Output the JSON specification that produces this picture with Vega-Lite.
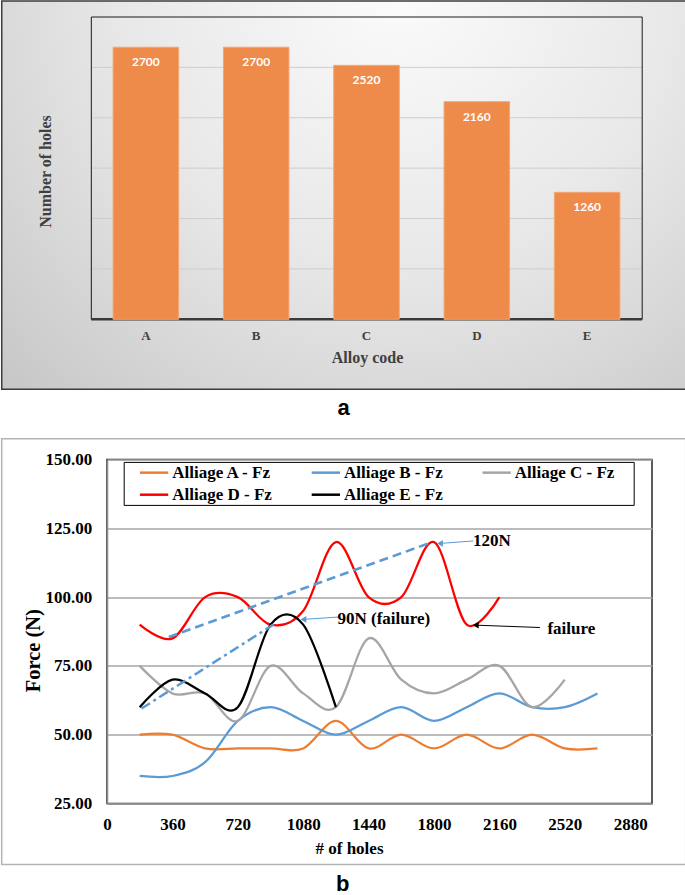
{
  "$schema": "https://vega.github.io/schema/vega-lite/v6.json",
  "padding": 0,
  "background": "white",
  "spacing": 17.5,
  "resolve": {"legend": {"color": "independent"}},
  "datasets": {
    "bars": [
      {"alloy": "A", "holes": 2700},
      {"alloy": "B", "holes": 2700},
      {"alloy": "C", "holes": 2520},
      {"alloy": "D", "holes": 2160},
      {"alloy": "E", "holes": 1260}
    ],
    "gridTop": [{"g": 500}, {"g": 1000}, {"g": 1500}, {"g": 2000}, {"g": 2500}],
    "one": [{}],
    "series": [
      {"alloy": "Alliage A - Fz", "holes": 180, "force": 50},
      {"alloy": "Alliage A - Fz", "holes": 360, "force": 50},
      {"alloy": "Alliage A - Fz", "holes": 540, "force": 45},
      {"alloy": "Alliage A - Fz", "holes": 720, "force": 45},
      {"alloy": "Alliage A - Fz", "holes": 900, "force": 45},
      {"alloy": "Alliage A - Fz", "holes": 1080, "force": 45},
      {"alloy": "Alliage A - Fz", "holes": 1260, "force": 55},
      {"alloy": "Alliage A - Fz", "holes": 1440, "force": 45},
      {"alloy": "Alliage A - Fz", "holes": 1620, "force": 50},
      {"alloy": "Alliage A - Fz", "holes": 1800, "force": 45},
      {"alloy": "Alliage A - Fz", "holes": 1980, "force": 50},
      {"alloy": "Alliage A - Fz", "holes": 2160, "force": 45},
      {"alloy": "Alliage A - Fz", "holes": 2340, "force": 50},
      {"alloy": "Alliage A - Fz", "holes": 2520, "force": 45},
      {"alloy": "Alliage A - Fz", "holes": 2700, "force": 45},
      {"alloy": "Alliage B - Fz", "holes": 180, "force": 35},
      {"alloy": "Alliage B - Fz", "holes": 360, "force": 35},
      {"alloy": "Alliage B - Fz", "holes": 540, "force": 40},
      {"alloy": "Alliage B - Fz", "holes": 720, "force": 55},
      {"alloy": "Alliage B - Fz", "holes": 900, "force": 60},
      {"alloy": "Alliage B - Fz", "holes": 1080, "force": 55},
      {"alloy": "Alliage B - Fz", "holes": 1260, "force": 50},
      {"alloy": "Alliage B - Fz", "holes": 1440, "force": 55},
      {"alloy": "Alliage B - Fz", "holes": 1620, "force": 60},
      {"alloy": "Alliage B - Fz", "holes": 1800, "force": 55},
      {"alloy": "Alliage B - Fz", "holes": 1980, "force": 60},
      {"alloy": "Alliage B - Fz", "holes": 2160, "force": 65},
      {"alloy": "Alliage B - Fz", "holes": 2340, "force": 60},
      {"alloy": "Alliage B - Fz", "holes": 2520, "force": 60},
      {"alloy": "Alliage B - Fz", "holes": 2700, "force": 65},
      {"alloy": "Alliage C - Fz", "holes": 180, "force": 75},
      {"alloy": "Alliage C - Fz", "holes": 360, "force": 65},
      {"alloy": "Alliage C - Fz", "holes": 540, "force": 65},
      {"alloy": "Alliage C - Fz", "holes": 720, "force": 55},
      {"alloy": "Alliage C - Fz", "holes": 900, "force": 75},
      {"alloy": "Alliage C - Fz", "holes": 1080, "force": 65},
      {"alloy": "Alliage C - Fz", "holes": 1260, "force": 60},
      {"alloy": "Alliage C - Fz", "holes": 1440, "force": 85},
      {"alloy": "Alliage C - Fz", "holes": 1620, "force": 70},
      {"alloy": "Alliage C - Fz", "holes": 1800, "force": 65},
      {"alloy": "Alliage C - Fz", "holes": 1980, "force": 70},
      {"alloy": "Alliage C - Fz", "holes": 2160, "force": 75},
      {"alloy": "Alliage C - Fz", "holes": 2340, "force": 60},
      {"alloy": "Alliage C - Fz", "holes": 2520, "force": 70},
      {"alloy": "Alliage D - Fz", "holes": 180, "force": 90},
      {"alloy": "Alliage D - Fz", "holes": 360, "force": 85},
      {"alloy": "Alliage D - Fz", "holes": 540, "force": 100},
      {"alloy": "Alliage D - Fz", "holes": 720, "force": 100},
      {"alloy": "Alliage D - Fz", "holes": 900, "force": 90},
      {"alloy": "Alliage D - Fz", "holes": 1080, "force": 95},
      {"alloy": "Alliage D - Fz", "holes": 1260, "force": 120},
      {"alloy": "Alliage D - Fz", "holes": 1440, "force": 100},
      {"alloy": "Alliage D - Fz", "holes": 1620, "force": 100},
      {"alloy": "Alliage D - Fz", "holes": 1800, "force": 120},
      {"alloy": "Alliage D - Fz", "holes": 1980, "force": 90},
      {"alloy": "Alliage D - Fz", "holes": 2160, "force": 100},
      {"alloy": "Alliage E - Fz", "holes": 180, "force": 60},
      {"alloy": "Alliage E - Fz", "holes": 360, "force": 70},
      {"alloy": "Alliage E - Fz", "holes": 540, "force": 65},
      {"alloy": "Alliage E - Fz", "holes": 720, "force": 60},
      {"alloy": "Alliage E - Fz", "holes": 900, "force": 90},
      {"alloy": "Alliage E - Fz", "holes": 1080, "force": 90},
      {"alloy": "Alliage E - Fz", "holes": 1260, "force": 60}
    ],
    "trendD": [{"holes": 340, "force": 85.5}, {"holes": 1790, "force": 120}],
    "trendE": [{"holes": 190, "force": 59.5}, {"holes": 920, "force": 90.2}],
    "notes": [
      {"label": "120N", "tx": 2118, "ty": 120.4, "ax": 2017, "ay": 120.4, "hx": 1833, "hy": 119.5},
      {"label": "90N (failure)", "tx": 1524, "ty": 92.2, "ax": 1283, "ay": 92.8, "hx": 1081, "hy": 91.9},
      {"label": "failure", "tx": 2556, "ty": 88.3, "ax": 2383, "ay": 88.95, "hx": 2030, "hy": 89.8}
    ]
  },
  "vconcat": [
    {
      "width": 535.2,
      "height": 302.3,
      "view": {"stroke": null},
      "resolve": {"scale": {"x": "independent", "y": "independent"}},
      "layer": [
        {
          "data": {"name": "one"},
          "mark": {
            "type": "rect",
            "fill": {
              "gradient": "radial",
              "x1": 0.58, "y1": 0.2, "r1": 0,
              "x2": 0.58, "y2": 0.2, "r2": 0.9,
              "stops": [
                {"offset": 0, "color": "#fbfbfb"},
                {"offset": 0.45, "color": "#e8e8e8"},
                {"offset": 1, "color": "#c0c0c0"}
              ]
            },
            "stroke": "#3c3c3c",
            "strokeWidth": 1.5
          },
          "encoding": {
            "x": {"datum": -0.1967, "type": "quantitative", "scale": {"domain": [0, 1], "nice": false, "zero": false}, "axis": null},
            "x2": {"datum": 1.0822},
            "y": {"datum": 3158, "type": "quantitative", "scale": {"domain": [0, 3000], "nice": false}, "axis": null},
            "y2": {"datum": -695}
          }
        },
        {
          "data": {"name": "gridTop"},
          "mark": {"type": "rule", "color": "#cdcdcd", "strokeWidth": 1},
          "encoding": {
            "x": {"datum": -0.0293, "type": "quantitative", "scale": {"domain": [0, 1], "nice": false, "zero": false}, "axis": null},
            "x2": {"datum": 1},
            "y": {"field": "g", "type": "quantitative", "scale": {"domain": [0, 3000], "nice": false}, "axis": null}
          }
        },
        {
          "data": {"name": "one"},
          "mark": {"type": "rect", "fill": null, "stroke": "#1a1a1a", "strokeWidth": 1},
          "encoding": {
            "x": {"datum": -0.0293, "type": "quantitative", "scale": {"domain": [0, 1], "nice": false, "zero": false}, "axis": null},
            "x2": {"datum": 1},
            "y": {"datum": 0, "type": "quantitative", "scale": {"domain": [0, 3000], "nice": false}, "axis": null},
            "y2": {"datum": 3000}
          }
        },
        {
          "data": {"name": "one"},
          "mark": {"type": "rule", "color": "#3a3a3a", "strokeWidth": 2.5},
          "encoding": {
            "x": {"datum": -0.0293, "type": "quantitative", "scale": {"domain": [0, 1], "nice": false, "zero": false}, "axis": null},
            "x2": {"datum": 1},
            "y": {"datum": 0, "type": "quantitative", "scale": {"domain": [0, 3000], "nice": false}, "axis": null}
          }
        },
        {
          "data": {"name": "bars"},
          "layer": [
            {
              "mark": {"type": "bar", "color": "#ee8b4b", "stroke": "#f3a772", "strokeWidth": 1},
              "encoding": {
                "x": {
                  "field": "alloy", "type": "nominal",
                  "scale": {"paddingInner": 0.406, "paddingOuter": 0.1287, "align": 0.215},
                  "axis": {
                    "title": "Alloy code", "zindex": 1, "labelAngle": 0, "orient": "bottom",
                    "ticks": false, "tickSize": 0, "domain": false, "grid": false,
                    "labelFont": "Liberation Serif", "labelFontWeight": "bold", "labelFontSize": 13, "labelColor": "#404040",
                    "labelBaseline": "middle", "labelPadding": 16,
                    "titleFont": "Liberation Serif", "titleFontWeight": "bold", "titleFontSize": 16, "titleColor": "#404040",
                    "titleX": 260, "titleY": 38.4, "titleBaseline": "middle", "titleAlign": "center"
                  }
                },
                "y": {
                  "field": "holes", "type": "quantitative",
                  "scale": {"domain": [0, 3000], "nice": false},
                  "axis": {
                    "title": "Number of holes", "zindex": 1, "orient": "left", "labels": false, "ticks": false, "domain": false, "grid": false,
                    "titleFont": "Liberation Serif", "titleFontWeight": "bold", "titleFontSize": 16, "titleColor": "#404040",
                    "titleX": -61.6, "titleY": 154, "titleAngle": -90, "titleBaseline": "middle", "titleAlign": "center"
                  }
                }
              }
            },
            {
              "mark": {"type": "text", "color": "white", "font": "Lato", "fontWeight": "bold", "fontSize": 12, "dy": 15, "baseline": "middle", "align": "center"},
              "encoding": {
                "x": {"field": "alloy", "type": "nominal"},
                "y": {"field": "holes", "type": "quantitative", "scale": {"domain": [0, 3000], "nice": false}},
                "text": {"field": "holes", "type": "quantitative"}
              }
            }
          ]
        },
        {
          "data": {"name": "one"},
          "mark": {"type": "text", "font": "Liberation Sans", "fontWeight": "bold", "fontSize": 22, "color": "black", "baseline": "alphabetic", "align": "center"},
          "encoding": {
            "x": {"datum": 0.4423, "type": "quantitative", "scale": {"domain": [0, 1], "nice": false, "zero": false}, "axis": null},
            "y": {"datum": -949.7, "type": "quantitative", "scale": {"domain": [0, 3000], "nice": false}, "axis": null},
            "text": {"value": "a"}
          }
        }
      ]
    },
    {
      "width": 545,
      "height": 344,
      "view": {"stroke": "#262626", "strokeWidth": 1.5},
      "resolve": {"scale": {"x": "independent", "y": "independent"}},
      "layer": [
        {
          "data": {"name": "one"},
          "mark": {"type": "rect", "fill": null, "stroke": "#b4b4b4", "strokeWidth": 1.5},
          "encoding": {
            "x": {"datum": -579.6, "type": "quantitative", "scale": {"domain": [0, 3000], "nice": false, "zero": false}, "axis": null},
            "x2": {"datum": 3185.5},
            "y": {"datum": 157.5, "type": "quantitative", "scale": {"domain": [25, 150], "nice": false, "zero": false}, "axis": null},
            "y2": {"datum": 2.83}
          }
        },
        {
          "data": {"name": "series"},
          "mark": {"type": "line", "interpolate": "cardinal", "strokeWidth": 2.25},
          "encoding": {
            "x": {
              "field": "holes", "type": "quantitative",
              "scale": {"domain": [0, 3000], "nice": false, "zero": false},
              "axis": {
                "title": "# of holes", "orient": "bottom", "values": [0, 360, 720, 1080, 1440, 1800, 2160, 2520, 2880], "format": "d",
                "ticks": false, "tickSize": 0, "grid": false, "domainColor": "#8c8c8c", "domainWidth": 1.5,
                "labelFont": "Liberation Serif", "labelFontWeight": "bold", "labelFontSize": 17, "labelColor": "black",
                "labelBaseline": "middle", "labelPadding": 20.7, "labelFlush": false, "labelOverlap": false,
                "titleFont": "Liberation Serif", "titleFontWeight": "bold", "titleFontSize": 17, "titleColor": "black",
                "titleX": 242, "titleY": 45, "titleBaseline": "middle", "titleAlign": "center"
              }
            },
            "y": {
              "field": "force", "type": "quantitative",
              "scale": {"domain": [25, 150], "nice": false, "zero": false},
              "axis": {
                "title": "Force (N)", "orient": "left", "values": [25, 50, 75, 100, 125, 150], "format": ".2f",
                "ticks": false, "tickSize": 0, "grid": true, "gridColor": "#a6a6a6", "gridWidth": 1.5,
                "domainColor": "#8c8c8c", "domainWidth": 1.5,
                "labelFont": "Liberation Serif", "labelFontWeight": "bold", "labelFontSize": 17, "labelColor": "black",
                "labelPadding": 15.3, "labelFlush": false, "labelOverlap": false,
                "titleFont": "Liberation Serif", "titleFontWeight": "bold", "titleFontSize": 20.5, "titleColor": "black",
                "titleX": -73.8, "titleY": 190.7, "titleAngle": -90, "titleBaseline": "middle", "titleAlign": "center"
              }
            },
            "color": {
              "field": "alloy", "type": "nominal",
              "scale": {
                "domain": ["Alliage A - Fz", "Alliage B - Fz", "Alliage C - Fz", "Alliage D - Fz", "Alliage E - Fz"],
                "range": ["#ed7d31", "#5b9bd5", "#a5a5a5", "#ff0000", "#000000"]
              },
              "legend": {
                "title": ".", "titleOrient": "right", "titleOpacity": 0, "titleFontSize": 4, "titlePadding": 15,
                "orient": "none", "legendX": 16.7, "legendY": 2.4, "direction": "horizontal", "columns": 3,
                "strokeColor": "black", "fillColor": "white", "padding": 2,
                "symbolType": "M1.14,0H6.8", "symbolSize": 100, "symbolStrokeWidth": 2.5,
                "labelFont": "Liberation Serif", "labelFontWeight": "bold", "labelFontSize": 17, "labelColor": "black",
                "labelOffset": 29.5, "columnPadding": 24.8, "rowPadding": 4.3, "labelLimit": 300
              }
            }
          }
        },
        {
          "data": {"name": "trendD"},
          "mark": {"type": "line", "color": "#5b9bd5", "strokeWidth": 2.5, "strokeDash": [9, 5]},
          "encoding": {
            "x": {"field": "holes", "type": "quantitative", "scale": {"domain": [0, 3000], "nice": false, "zero": false}, "axis": null},
            "y": {"field": "force", "type": "quantitative", "scale": {"domain": [25, 150], "nice": false, "zero": false}, "axis": null}
          }
        },
        {
          "data": {"name": "trendE"},
          "mark": {"type": "line", "color": "#5b9bd5", "strokeWidth": 2.5, "strokeDash": [10, 4, 3, 4]},
          "encoding": {
            "x": {"field": "holes", "type": "quantitative", "scale": {"domain": [0, 3000], "nice": false, "zero": false}, "axis": null},
            "y": {"field": "force", "type": "quantitative", "scale": {"domain": [25, 150], "nice": false, "zero": false}, "axis": null}
          }
        },
        {
          "data": {"name": "notes"},
          "transform": [{"filter": "datum.label !== 'failure'"}],
          "mark": {"type": "rule", "color": "#5b9bd5", "strokeWidth": 1},
          "encoding": {
            "x": {"field": "ax", "type": "quantitative", "scale": {"domain": [0, 3000], "nice": false, "zero": false}, "axis": null},
            "y": {"field": "ay", "type": "quantitative", "scale": {"domain": [25, 150], "nice": false, "zero": false}, "axis": null},
            "x2": {"field": "hx"},
            "y2": {"field": "hy"}
          }
        },
        {
          "data": {"name": "notes"},
          "transform": [{"filter": "datum.label !== 'failure'"}],
          "mark": {"type": "point", "shape": "triangle-left", "filled": true, "color": "#5b9bd5", "size": 45, "opacity": 1},
          "encoding": {
            "x": {"field": "hx", "type": "quantitative", "scale": {"domain": [0, 3000], "nice": false, "zero": false}, "axis": null},
            "y": {"field": "hy", "type": "quantitative", "scale": {"domain": [25, 150], "nice": false, "zero": false}, "axis": null}
          }
        },
        {
          "data": {"name": "notes"},
          "transform": [{"filter": "datum.label === 'failure'"}],
          "mark": {"type": "rule", "color": "#000000", "strokeWidth": 1},
          "encoding": {
            "x": {"field": "ax", "type": "quantitative", "scale": {"domain": [0, 3000], "nice": false, "zero": false}, "axis": null},
            "y": {"field": "ay", "type": "quantitative", "scale": {"domain": [25, 150], "nice": false, "zero": false}, "axis": null},
            "x2": {"field": "hx"},
            "y2": {"field": "hy"}
          }
        },
        {
          "data": {"name": "notes"},
          "transform": [{"filter": "datum.label === 'failure'"}],
          "mark": {"type": "point", "shape": "triangle-left", "filled": true, "color": "#000000", "size": 45, "opacity": 1},
          "encoding": {
            "x": {"field": "hx", "type": "quantitative", "scale": {"domain": [0, 3000], "nice": false, "zero": false}, "axis": null},
            "y": {"field": "hy", "type": "quantitative", "scale": {"domain": [25, 150], "nice": false, "zero": false}, "axis": null}
          }
        },
        {
          "data": {"name": "notes"},
          "mark": {"type": "text", "font": "Liberation Serif", "fontWeight": "bold", "fontSize": 17, "color": "black", "baseline": "middle", "align": "center"},
          "encoding": {
            "x": {"field": "tx", "type": "quantitative", "scale": {"domain": [0, 3000], "nice": false, "zero": false}, "axis": null},
            "y": {"field": "ty", "type": "quantitative", "scale": {"domain": [25, 150], "nice": false, "zero": false}, "axis": null},
            "text": {"field": "label"}
          }
        },
        {
          "data": {"name": "one"},
          "mark": {"type": "text", "font": "Liberation Sans", "fontWeight": "bold", "fontSize": 22, "color": "black", "baseline": "alphabetic", "align": "center"},
          "encoding": {
            "x": {"datum": 1297.4, "type": "quantitative", "scale": {"domain": [0, 3000], "nice": false, "zero": false}, "axis": null},
            "y": {"datum": -6.69, "type": "quantitative", "scale": {"domain": [25, 150], "nice": false, "zero": false}, "axis": null},
            "text": {"value": "b"}
          }
        }
      ]
    }
  ]
}
